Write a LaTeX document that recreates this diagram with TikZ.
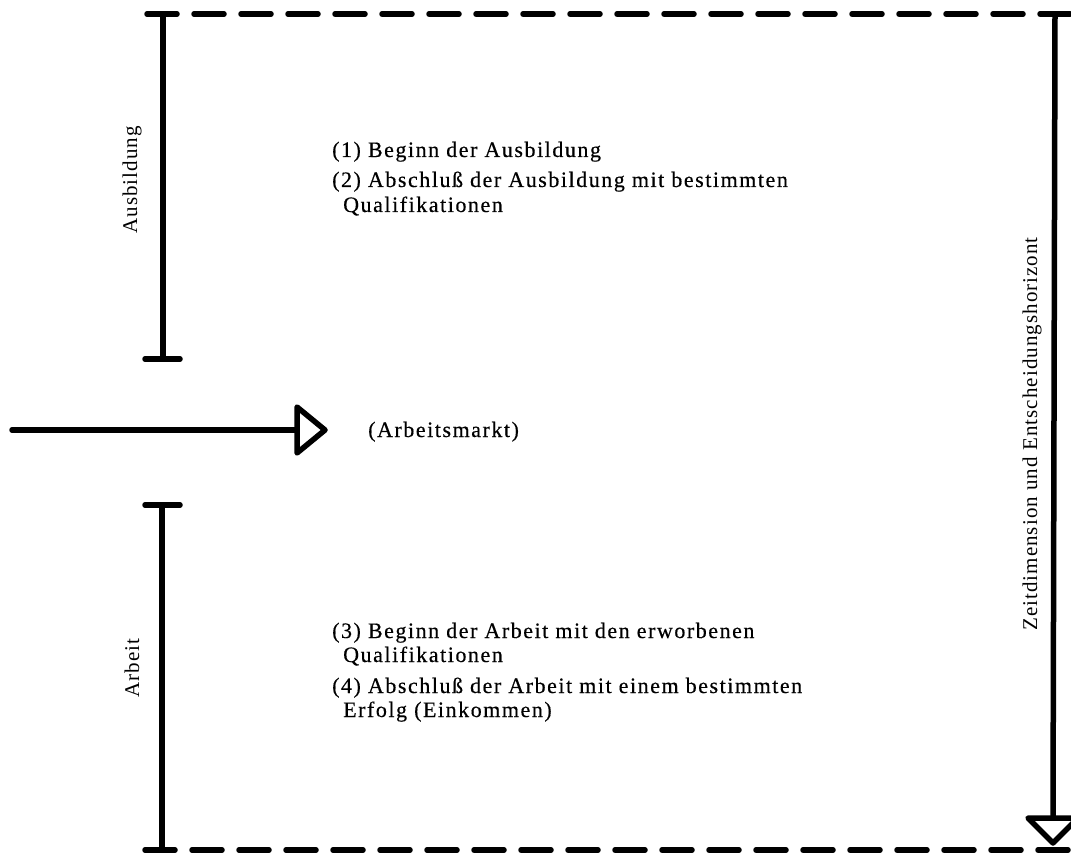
\documentclass[tikz,border=0pt]{standalone}
\usepackage{fontspec}
\setmainfont{Liberation Serif}[LetterSpace=5]
\newfontfamily\bodyfont{Liberation Serif}[LetterSpace=7,FakeBold=0.4]
\begin{document}
\begin{tikzpicture}[x=1pt,y=-1pt,
  heavy/.style={line width=5.5pt, line cap=round},
  dashline/.style={line width=5.5pt, line cap=round, dash pattern=on 30pt off 17pt},
  openhead/.style={line width=5.5pt, line join=round, fill=white},
  txt/.style={font=\bodyfont\fontsize{22}{25}\selectfont, anchor=base west, inner sep=0pt},
  sidelabel/.style={font=\fontsize{21}{25}\selectfont, rotate=90, inner sep=0pt}]
\useasboundingbox (0,0) rectangle (1071,853);
\clip (0,0) rectangle (1071,853);
% frame coordinates
\coordinate (tl) at (147,14);
\coordinate (tr) at (1085,14);
\coordinate (bl) at (145,850);
\coordinate (br) at (1085,850);
% Ausbildung bracket
\coordinate (a1) at (163,14);
\coordinate (a2) at (163,359);
\coordinate (a2l) at (145,359);
\coordinate (a2r) at (180,359);
% Arbeit bracket
\coordinate (b1) at (162,505);
\coordinate (b1l) at (145,505);
\coordinate (b1r) at (180,505);
\coordinate (b2) at (162,850);
% market arrow
\coordinate (m1) at (12,430);
\coordinate (m2) at (297,430);
\coordinate (mh1) at (297,407);
\coordinate (mh2) at (325,430);
\coordinate (mh3) at (297,453);
% time arrow
\coordinate (r1) at (1055,14);
\coordinate (r2) at (1053,818);
\coordinate (rh1) at (1028,818);
\coordinate (rh2) at (1078,818);
\coordinate (rh3) at (1053,843);

\draw[dashline] (tl) -- (tr);
\draw[dashline] (bl) -- (br);
\draw[heavy] (a1) -- (a2);
\draw[heavy] (a2l) -- (a2r);
\draw[heavy] (b1l) -- (b1r);
\draw[heavy] (b1) -- (b2);
\draw[heavy] (m1) -- (m2);
\draw[openhead] (mh1) -- (mh2) -- (mh3) -- cycle;
\draw[heavy] (r1) -- (r2);
\draw[openhead] (rh1) -- (rh2) -- (rh3) -- cycle;

\node[sidelabel] (lausb) at (132,180) {Ausbildung};
\node[sidelabel] (larb) at (132,668) {Arbeit};
\node[sidelabel] (lzeit) at (1032,434) {Zeitdimension und Entscheidungshorizont};

\node[txt] (t1) at (332,157) {(1) Beginn der Ausbildung};
\node[txt] (t2) at (332,187) {(2) Abschluß der Ausbildung mit bestimmten};
\node[txt] (t2b) at (343,212) {Qualifikationen};
\node[txt] (tm) at (368,437) {(Arbeitsmarkt)};
\node[txt] (t3) at (332,638) {(3) Beginn der Arbeit mit den erworbenen};
\node[txt] (t3b) at (343,662) {Qualifikationen};
\node[txt] (t4) at (332,693) {(4) Abschluß der Arbeit mit einem bestimmten};
\node[txt] (t4b) at (343,717) {Erfolg (Einkommen)};
\end{tikzpicture}
\end{document}
